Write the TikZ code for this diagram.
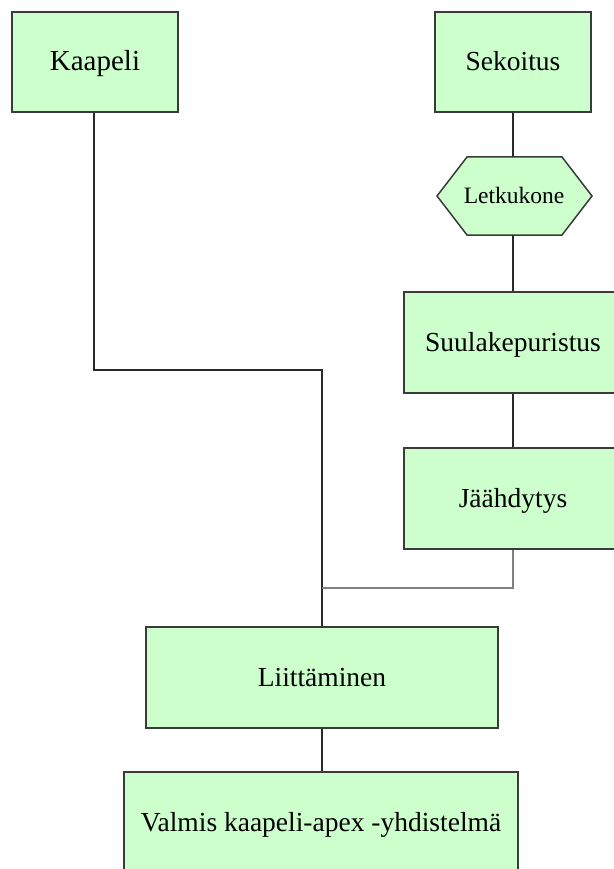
\documentclass[tikz,border=0pt]{standalone}
\usepackage{fontspec}
\setmainfont{Liberation Serif}
\definecolor{boxfill}{HTML}{CCFFCC}
\definecolor{boxline}{HTML}{3A3A3A}
\definecolor{linkdark}{HTML}{2A2A2A}
\definecolor{linklight}{HTML}{808080}
\begin{document}
\begin{tikzpicture}[x=1pt,y=1pt,
  procbox/.style={draw=boxline,line width=1.5pt,fill=boxfill,inner sep=0pt,
    text height=18pt,text depth=0pt,
    font=\fontsize{27.5}{32}\selectfont},
  link/.style={draw=linkdark,line width=2.2pt},
  linkl/.style={draw=linklight,line width=2.5pt}]
\useasboundingbox (0,0) rectangle (613,-869);
\fill[white] (0,0) rectangle (613,-869);
% boxes
\node[procbox,minimum width=166pt,minimum height=100pt] (kaap) at (95,-62) {\fontsize{29}{32}\selectfont Kaapeli};
\node[procbox,minimum width=156pt,minimum height=100pt] (sek) at (513,-62) {Sekoitus};
% hexagon
\path[draw=boxline,line width=1.5pt,fill=boxfill]
  (437,-196) -- (467,-157) -- (562,-157) -- (592,-196) -- (562,-235) -- (467,-235) -- cycle;
\node[inner sep=0pt,minimum width=155pt,minimum height=78pt,text height=15pt,text depth=0pt,font=\fontsize{23.5}{28}\selectfont] (letk) at (514,-196) {Letkukone};
\node[procbox,minimum width=218pt,minimum height=101pt] (suul) at (513,-342.5) {Suulakepuristus};
\node[procbox,minimum width=218pt,minimum height=101pt] (jaah) at (513,-498.5) {Jäähdytys};
\node[procbox,minimum width=352pt,minimum height=101pt] (liit) at (322,-677.5) {Liittäminen};
\node[procbox,minimum width=394pt,minimum height=100pt] (valm) at (321,-822) {Valmis kaapeli-apex -yhdistelmä};
% bend points
\coordinate (kb) at (94,-370);
\coordinate (jb) at (322,-588);
% connectors
\draw[link] (kaap.south -| kb) -- (kb) -| (liit.north);
\draw[link] (sek.south) -- (sek.south |- letk.north);
\draw[link] (sek.south |- letk.south) -- (suul.north);
\draw[link] (suul.south) -- (jaah.north);
\draw[linkl] (jaah.south) |- (jb);
\draw[link] (liit.south) -- (liit.south |- valm.north);
\end{tikzpicture}
\end{document}
